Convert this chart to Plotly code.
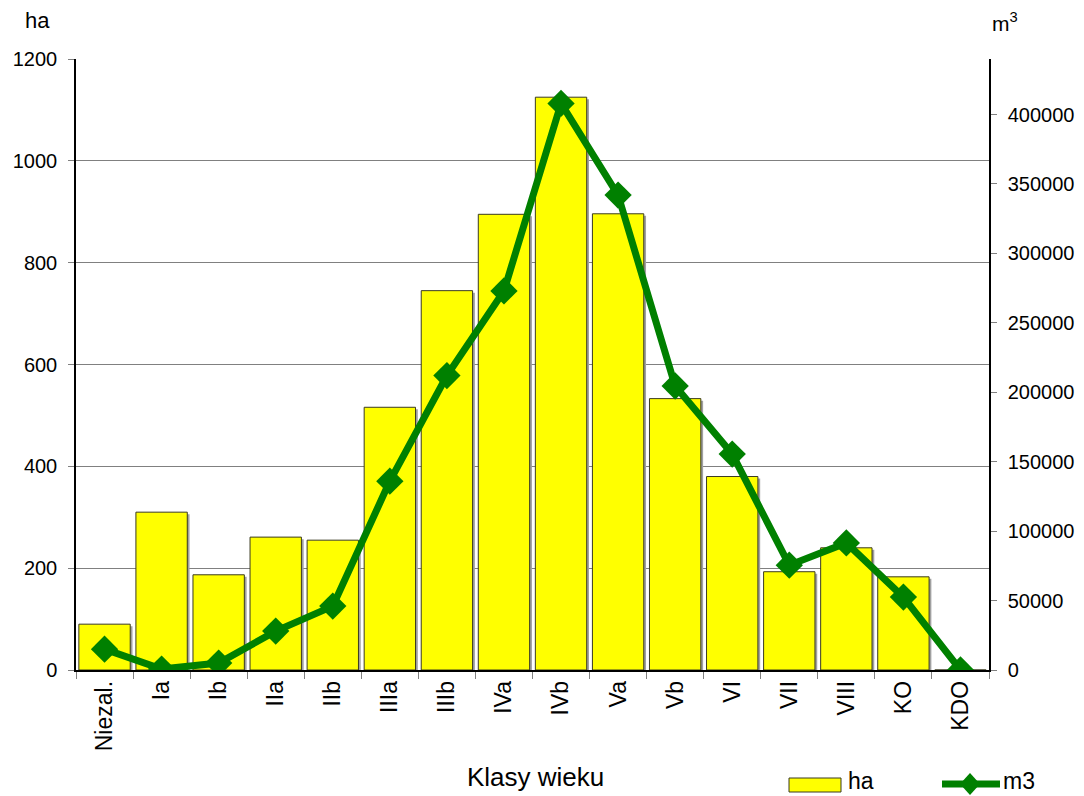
import plotly.graph_objects as go

categories = ["Niezal.", "Ia", "Ib", "IIa", "IIb", "IIIa", "IIIb", "IVa", "IVb",
              "Va", "Vb", "VI", "VII", "VIII", "KO", "KDO"]
area_ha = [90, 310, 187, 261, 255, 516, 745, 895, 1125, 896, 533, 380, 193, 240, 183, 0]
volume_m3 = [15000, 700, 5000, 28000, 46000, 136000, 212000, 273000, 408000,
             342000, 204500, 155500, 75500, 91500, 52500, 0]

FONT = "Liberation Sans, Arial, sans-serif"
GREEN = "#008000"
YELLOW = "#ffff00"

fig = go.Figure()

# bar shadow
fig.add_trace(go.Bar(
    x=categories, y=area_ha, base=[-4] * len(area_ha),
    width=0.9, offset=-0.41,
    marker=dict(color="#a0a0a0", line=dict(width=0)),
    showlegend=False, hoverinfo="skip",
))
fig.add_trace(go.Bar(
    x=categories, y=area_ha, name="ha",
    width=0.9, offset=-0.45, showlegend=False,
    marker=dict(color=YELLOW, line=dict(color="#3a3a20", width=1)),
))
fig.add_trace(go.Scatter(
    x=categories, y=volume_m3, name="m3", yaxis="y2", showlegend=False,
    mode="lines+markers",
    line=dict(color=GREEN, width=7),
    marker=dict(symbol="diamond", size=21, color=GREEN),
))

# manual legend (paper coordinates)
W, H, L, T = 913.0, 611.0, 76.0, 670.0
def px(x):
    return (x - L) / W
def py(y):
    return (T - y) / H

ly = py(784)
lt = py(781)
dx, dy = 10 / W, 11 / H
dxc = px(970)
shapes = [
    dict(type="rect", xref="paper", yref="paper", x0=px(789), x1=px(841),
         y0=py(792), y1=py(778), fillcolor=YELLOW, line=dict(color="#3a3a20", width=1)),
    dict(type="line", xref="paper", yref="paper", x0=px(942), x1=px(1000),
         y0=ly, y1=ly, line=dict(color=GREEN, width=7)),
    dict(type="path", xref="paper", yref="paper",
         path=f"M {dxc},{ly+dy} L {dxc+dx},{ly} L {dxc},{ly-dy} L {dxc-dx},{ly} Z",
         fillcolor=GREEN, line=dict(color=GREEN, width=0)),
]

fig.update_layout(
    width=1084, height=796,
    paper_bgcolor="white", plot_bgcolor="white",
    margin=dict(l=76, r=95, t=59, b=126, autoexpand=False),
    barmode="overlay",
    showlegend=False,
    font=dict(family=FONT, size=20, color="black"),
    xaxis=dict(
        type="category", tickangle=-90, tickson="boundaries",
        ticks="outside", ticklen=7, tickcolor="#808080",
        showline=True, linecolor="black", linewidth=1.5,
        range=[-0.5, 15.5], showgrid=False,
        tickfont=dict(size=23),
    ),
    yaxis=dict(
        range=[0, 1200], dtick=200, ticks="outside", ticklen=6,
        tickcolor="#808080", ticklabelstandoff=7,
        showline=True, linecolor="black", linewidth=1.5,
        showgrid=True, gridcolor="#808080", gridwidth=1,
        zeroline=False, tickfont=dict(size=20),
    ),
    yaxis2=dict(
        range=[0, 440000], dtick=50000, overlaying="y", side="right",
        ticks="outside", ticklen=6, tickcolor="#808080", ticklabelstandoff=7,
        showline=True, linecolor="black", linewidth=1.5,
        showgrid=False, zeroline=False, tickfont=dict(size=20),
        tickformat="d",
    ),
    shapes=shapes,
    annotations=[
        dict(text="ha", xref="paper", yref="paper", x=px(37), y=py(20),
             showarrow=False, font=dict(size=22), xanchor="center", yanchor="middle"),
        dict(text="m<sup>3</sup>", xref="paper", yref="paper", x=px(1005), y=py(22),
             showarrow=False, font=dict(size=21), xanchor="center", yanchor="middle"),
        dict(text="Klasy wieku", xref="paper", yref="paper", x=px(535), y=py(777),
             showarrow=False, font=dict(size=26), xanchor="center", yanchor="middle"),
        dict(text="ha", xref="paper", yref="paper", x=px(846), y=lt,
             showarrow=False, font=dict(size=23), xanchor="left", yanchor="middle"),
        dict(text="m3", xref="paper", yref="paper", x=px(1001), y=lt,
             showarrow=False, font=dict(size=23), xanchor="left", yanchor="middle"),
    ],
)

fig.write_html(
    "out.html",
    config={"displayModeBar": False},
    post_script="document.body.style.margin='0';document.body.style.overflow='hidden';",
)
